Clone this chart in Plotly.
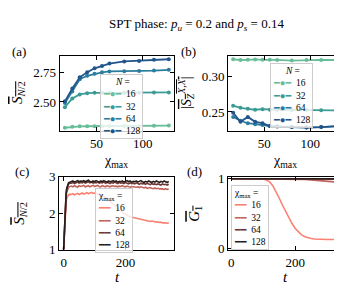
import plotly.graph_objects as go

# ---------------- data ----------------
chi = [16, 24, 32, 40, 48, 56, 64, 80, 96, 112, 128]
N_labels = ["16", "32", "64", "128"]
chi_labels = ["16", "32", "64", "128"]

ent_N16 = [2.278, 2.287, 2.290, 2.291, 2.292, 2.292, 2.293, 2.293, 2.294, 2.295, 2.297]
ent_N32 = [2.455, 2.530, 2.565, 2.575, 2.578, 2.579, 2.580, 2.580, 2.580, 2.581, 2.582]
ent_N64 = [2.490, 2.590, 2.695, 2.725, 2.742, 2.755, 2.762, 2.763, 2.765, 2.770, 2.776]
ent_N128 = [2.505, 2.615, 2.712, 2.755, 2.789, 2.810, 2.830, 2.848, 2.853, 2.862, 2.867]

sz_N16 = [0.3250, 0.3240, 0.3242, 0.3248, 0.3243, 0.3243, 0.3241, 0.3232, 0.3240, 0.3241, 0.3240]
sz_N32 = [0.2590, 0.2560, 0.2546, 0.2532, 0.2540, 0.2533, 0.2532, 0.2530, 0.2530, 0.2525, 0.2524]
sz_N64 = [0.2430, 0.2375, 0.2340, 0.2325, 0.2315, 0.2300, 0.2296, 0.2288, 0.2280, 0.2285, 0.2296]
sz_N128 = [0.2490, 0.2360, 0.2430, 0.2360, 0.2340, 0.2300, 0.2292, 0.2285, 0.2278, 0.2285, 0.2298]

t_c = [0, 2, 4, 6, 8, 10, 12, 14, 16, 18, 20] + list(range(25, 345, 5))
S_chi16 = [1.00, 1.45, 1.85, 2.12, 2.30, 2.40, 2.45, 2.48, 2.50, 2.50, 2.52,
           2.51, 2.53, 2.50, 2.52, 2.54, 2.51, 2.53, 2.55,
           2.52, 2.54, 2.56, 2.53, 2.55, 2.57, 2.54, 2.55,
           2.53, 2.53, 2.52, 2.50, 2.48, 2.46, 2.43, 2.40,
           2.36, 2.32, 2.28, 2.24, 2.20, 2.16, 2.12, 2.08,
           2.05, 2.02, 1.99, 1.96, 1.94, 1.92, 1.90, 1.89,
           1.87, 1.86, 1.86, 1.84, 1.83, 1.84, 1.81, 1.81,
           1.79, 1.80, 1.78, 1.77, 1.78, 1.76, 1.76, 1.75,
           1.76, 1.74, 1.75, 1.73, 1.74, 1.73, 1.72, 1.73]
S_chi32 = [1.00, 1.50, 1.95, 2.25, 2.45, 2.57, 2.64, 2.68, 2.70, 2.72, 2.73,
           2.74, 2.72, 2.75, 2.73, 2.71, 2.75, 2.73, 2.74,
           2.76, 2.72, 2.74, 2.75, 2.72, 2.74, 2.76, 2.73,
           2.74, 2.76, 2.73, 2.72, 2.75, 2.74, 2.72, 2.75,
           2.74, 2.72, 2.74, 2.75, 2.73, 2.74, 2.72, 2.74,
           2.73, 2.75, 2.73, 2.72, 2.74, 2.73, 2.71, 2.73,
           2.72, 2.73, 2.71, 2.72, 2.70, 2.72, 2.70, 2.69,
           2.71, 2.68, 2.69, 2.70, 2.68, 2.67, 2.69, 2.67,
           2.68, 2.66, 2.67, 2.66, 2.65, 2.67, 2.65, 2.66]
S_chi64 = [1.00, 1.52, 1.98, 2.30, 2.52, 2.65, 2.73, 2.77, 2.80, 2.81, 2.82,
           2.82, 2.84, 2.81, 2.83, 2.85, 2.82, 2.84, 2.83,
           2.85, 2.82, 2.84, 2.86, 2.83, 2.85, 2.82, 2.84,
           2.83, 2.85, 2.82, 2.84, 2.83, 2.86, 2.82, 2.84,
           2.83, 2.81, 2.84, 2.82, 2.85, 2.83, 2.81, 2.84,
           2.82, 2.83, 2.81, 2.84, 2.82, 2.80, 2.83, 2.81,
           2.82, 2.80, 2.83, 2.81, 2.79, 2.82, 2.80, 2.81,
           2.79, 2.82, 2.80, 2.78, 2.81, 2.79, 2.80, 2.78,
           2.80, 2.79, 2.77, 2.80, 2.78, 2.79, 2.77, 2.79]
S_chi128 = [1.00, 1.52, 2.00, 2.32, 2.54, 2.68, 2.76, 2.80, 2.83, 2.84, 2.85,
            2.86, 2.88, 2.85, 2.87, 2.89, 2.86, 2.88, 2.87,
            2.89, 2.86, 2.88, 2.90, 2.87, 2.85, 2.88, 2.86,
            2.89, 2.87, 2.85, 2.88, 2.86, 2.89, 2.87, 2.85,
            2.88, 2.86, 2.87, 2.89, 2.86, 2.88, 2.85, 2.87,
            2.86, 2.88, 2.85, 2.87, 2.89, 2.86, 2.88, 2.85,
            2.87, 2.86, 2.88, 2.85, 2.87, 2.89, 2.86, 2.84,
            2.87, 2.85, 2.88, 2.86, 2.84, 2.87, 2.85, 2.88,
            2.86, 2.84, 2.87, 2.85, 2.88, 2.86, 2.84, 2.87]

t_d = list(range(0, 340, 10))
G_chi16 = [1.000, 1.000, 1.000, 1.000, 1.000, 1.000, 0.999, 0.999, 0.998, 0.997,
           0.993, 0.982, 0.955, 0.900, 0.820, 0.725, 0.625, 0.530, 0.440, 0.360,
           0.290, 0.238, 0.198, 0.172, 0.156, 0.146, 0.140, 0.136, 0.134, 0.133,
           0.132, 0.132, 0.133, 0.132]
G_chi32 = [1.000, 1.000, 1.000, 1.000, 1.000, 1.000, 1.000, 1.000, 1.000, 1.000,
           1.000, 1.000, 1.000, 1.000, 1.000, 1.000, 1.000, 0.999, 0.999, 0.999,
           0.998, 0.996, 0.994, 0.991, 0.988, 0.985, 0.981, 0.977, 0.973, 0.969,
           0.965, 0.960, 0.956, 0.952]
G_chi64 = [1.000, 1.000, 1.000, 1.000, 1.000, 1.000, 1.000, 1.000, 1.000, 1.000,
           1.000, 1.000, 1.000, 1.000, 1.000, 1.000, 1.000, 1.000, 1.000, 1.000,
           1.000, 1.000, 1.000, 1.000, 1.000, 0.999, 0.999, 0.998, 0.998, 0.997,
           0.997, 0.996, 0.995, 0.994]
G_chi128 = [1.000] * 34

# ---------------- style ----------------
SERIF = "Liberation Serif, DejaVu Serif, serif"
blue_cols = ["#66bd98", "#3c9b95", "#2b7d9f", "#22558b"]
red_cols = ["#fa8072", "#c0645b", "#6e3a36", "#2a1e1e"]

W, H = 342, 285


def px_x(p):
    return p / W


def px_y(p):
    return 1 - p / H


fig = go.Figure()

for ys, c in zip([ent_N16, ent_N32, ent_N64, ent_N128], blue_cols):
    fig.add_trace(go.Scatter(x=chi, y=ys, mode="lines+markers", line=dict(color=c, width=1.8),
                             marker=dict(color=c, size=4), showlegend=False, xaxis="x", yaxis="y"))
for ys, c in zip([sz_N16, sz_N32, sz_N64, sz_N128], blue_cols):
    fig.add_trace(go.Scatter(x=chi, y=ys, mode="lines+markers", line=dict(color=c, width=1.8),
                             marker=dict(color=c, size=4), showlegend=False, xaxis="x2", yaxis="y2"))
for ys, c in zip([S_chi16, S_chi32, S_chi64, S_chi128], red_cols):
    fig.add_trace(go.Scatter(x=t_c, y=ys, mode="lines", line=dict(color=c, width=1.6),
                             showlegend=False, xaxis="x3", yaxis="y3"))
for ys, c in zip([G_chi16, G_chi32, G_chi64, G_chi128], red_cols):
    fig.add_trace(go.Scatter(x=t_d, y=ys, mode="lines", line=dict(color=c, width=1.6),
                             showlegend=False, xaxis="x4", yaxis="y4"))


def margin_range(vals, frac=0.05):
    lo, hi = min(vals), max(vals)
    s = hi - lo
    return [lo - frac * s, hi + frac * s]


ax = dict(showline=True, linecolor="black", linewidth=1, mirror="allticks", ticks="inside",
          ticklen=4, tickwidth=1, tickcolor="black", showgrid=False, zeroline=False,
          tickfont=dict(family=SERIF, size=13, color="black"))

yA = [2.25, 2.896]
yB = margin_range(sz_N16 + sz_N32 + sz_N64 + sz_N128)

fig.update_layout(
    width=W, height=H, autosize=False,
    margin=dict(l=0, r=0, t=0, b=0),
    paper_bgcolor="white", plot_bgcolor="white",
    xaxis=dict(ax, domain=[px_x(51.7), px_x(166)], range=margin_range(chi), tickvals=[50, 100], anchor="y"),
    yaxis=dict(ax, domain=[px_y(122), px_y(43)], range=yA, tickvals=[2.5, 2.75],
               ticktext=["2.50", "2.75"], anchor="x"),
    xaxis2=dict(ax, domain=[px_x(220), px_x(333)], range=margin_range(chi), tickvals=[50, 100], anchor="y2"),
    yaxis2=dict(ax, domain=[px_y(122), px_y(43)], range=yB, tickvals=[0.25, 0.30],
                ticktext=["0.25", "0.30"], anchor="x2"),
    xaxis3=dict(ax, domain=[px_x(51), px_x(166)], range=[-15, 357], tickvals=[0, 200], anchor="y3"),
    yaxis3=dict(ax, domain=[px_y(247.3), px_y(170)], range=[0.98, 3.0], tickvals=[1, 2, 3], anchor="x3"),
    xaxis4=dict(ax, domain=[px_x(220), px_x(332)], range=[-10, 340], tickvals=[0, 200], anchor="y4"),
    yaxis4=dict(ax, domain=[px_y(247.3), px_y(170)], range=[-0.02, 1.03], tickvals=[0, 1], anchor="x4"),
)

ann = []


def text(x, y, s, size=13, angle=0, xanchor="center", yanchor="middle"):
    ann.append(dict(x=px_x(x), y=px_y(y), xref="paper", yref="paper", text=s, showarrow=False,
                    font=dict(family=SERIF, size=size, color="black"), textangle=angle,
                    xanchor=xanchor, yanchor=yanchor))


# title
text(188, 10, "SPT phase: <i>p<sub>u</sub></i> = 0.2 and <i>p<sub>s</sub></i> = 0.14", size=13)
# panel labels
text(11, 38, "(a)", size=13)
text(180, 38, "(b)", size=13)
text(14, 165, "(c)", size=13)
text(186, 165, "(d)", size=13)
# axis labels
OV = '<span style="text-decoration:overline">'
text(10, 82, OV + "<i>S</i><sub><i>N</i>/2</sub></span>", size=15, angle=-90)
text(178, 82, OV + "|<i>S</i><sub><i>Z</i></sub><sup><i>X,X</i></sup>|</span>", size=14, angle=-90)
text(12, 209, OV + "<i>S</i><sub><i>N</i>/2</sub></span>", size=15, angle=-90)
text(187, 209, OV + "<i>G</i><sub>1</sub></span>", size=15, angle=-90)
text(108, 154, "χ<sub>max</sub>", size=14)
text(277, 154, "χ<sub>max</sub>", size=14)
text(109, 276, "<i>t</i>", size=15)
text(277, 276, "<i>t</i>", size=15)


def legend(x, y, title, labels, colors, glyph):
    rows = [title] + [f'<span style="color:{c}">{glyph}</span>\u00a0 {l}' for l, c in zip(labels, colors)]
    ann.append(dict(x=px_x(x), y=px_y(y), xref="paper", yref="paper", text="<br>".join(rows),
                    showarrow=False, align="left", xanchor="left", yanchor="top",
                    font=dict(family=SERIF, size=9.5, color="black"),
                    bgcolor="rgba(255,255,255,0.8)", bordercolor="#cccccc", borderwidth=1, borderpad=2))


legend(92, 62, "\u00a0\u00a0\u00a0\u00a0\u00a0<i>N</i> =", N_labels, blue_cols, "━●━")
legend(262, 51, "\u00a0\u00a0\u00a0\u00a0\u00a0<i>N</i> =", N_labels, blue_cols, "━●━")
legend(87, 182, "χ<sub>max</sub> =", chi_labels, red_cols, "━━")
legend(223, 179, "χ<sub>max</sub> =", chi_labels, red_cols, "━━")

fig.update_layout(annotations=ann)
fig.write_html("out.html")
